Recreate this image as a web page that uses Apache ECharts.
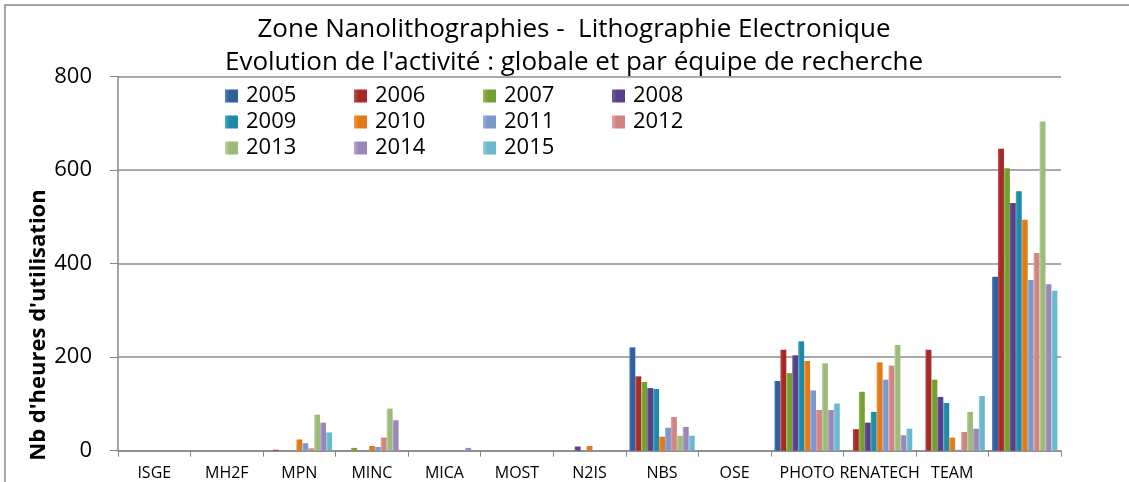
<!DOCTYPE html>
<html>
<head>
<meta charset="utf-8">
<script src="https://cdn.jsdelivr.net/npm/echarts@6/dist/echarts.min.js"></script>
<style>
html,body{margin:0;padding:0;background:#fff;}
#c{width:1129px;height:482px;}
</style>
</head>
<body>
<div id="c"></div>
<script>
const categories = ['ISGE','MH2F','MPN','MINC','MICA','MOST','N2IS','NBS','OSE','PHOTO','RENATECH','TEAM',''];
const years = ['2005','2006','2007','2008','2009','2010','2011','2012','2013','2014','2015'];
const v2005 = [0,0,0,0,0,0,0,221,0,149,0,0,372];
const v2006 = [0,0,2,0,0,0,0,159,0,216,46,216,646];
const v2007 = [0,0,0,6,0,0,0,147,0,166,126,152,604];
const v2008 = [0,0,0,0,0,0,9,134,0,204,60,115,530];
const v2009 = [0,0,0,0,0,0,0,132,0,234,83,102,555];
const v2010 = [0,0,24,10,0,0,10,30,0,192,189,28,494];
const v2011 = [0,0,16,8,0,0,0,49,0,129,152,2,365];
const v2012 = [0,0,5,28,0,0,0,72,0,87,182,40,423];
const v2013 = [0,0,77,90,0,0,0,32,0,187,226,83,704];
const v2014 = [0,0,60,65,6,0,0,51,0,87,33,47,356];
const v2015 = [0,0,39,0,0,0,0,32,0,101,47,117,342];
const values = [v2005,v2006,v2007,v2008,v2009,v2010,v2011,v2012,v2013,v2014,v2015];
const yTicks = [0,200,400,600,800];

const colors = ['#2f5f9e','#a52a2a','#74a032','#5b3e88','#1f8aa6','#e07a1a','#7a98cb','#d08484','#9dba78','#9a87b8','#6ab8cc'];
const light = ['#4f80c0','#c84a48','#93c050','#7a5aa8','#40acc8','#f59840','#9ab4e0','#e8a4a4','#bcd89a','#b8a8d4','#90d4e4'];

const series = years.map((y,i)=>({
  name: y,
  type: 'bar',
  data: values[i],
  barGap: '0%',
  barCategoryGap: '10%',
  itemStyle: {
    color: new echarts.graphic.LinearGradient(0,0,1,0,[
      {offset:0,color:light[i]},{offset:0.35,color:colors[i]},{offset:1,color:colors[i]}
    ])
  }
}));

const chart = echarts.init(document.getElementById('c'));
chart.setOption({
  animation:false,
  color: colors,
  textStyle:{fontFamily:'Open Sans'},
  title:{
    text:"Zone Nanolithographies -  Lithographie Electronique\nEvolution de l'activité : globale et par équipe de recherche",
    left:569, textAlign:'center', top:8,
    textStyle:{fontFamily:'Open Sans',fontSize:26,fontWeight:'normal',color:'#000',lineHeight:33}
  },
  legend:{
    left:220, top:80, width:530,
    itemWidth:13, itemHeight:13, itemGap:4,
    icon:'rect',
    data: years,
    textStyle:{fontFamily:'Open Sans',fontSize:22,color:'#000',width:104,lineHeight:20,padding:[0,0,0,3]}
  },
  grid:{left:118,right:68,top:76.7,bottom:31.3,containLabel:false},
  xAxis:{
    type:'category',
    data:categories,
    axisLine:{lineStyle:{color:'#888',width:1.5}},
    axisTick:{show:true,length:6,lineStyle:{color:'#888'},alignWithLabel:false},
    axisLabel:{fontFamily:'Open Sans',fontSize:16,color:'#000',margin:15,interval:0}
  },
  yAxis:{
    type:'value',min:0,max:800,interval:200,
    axisLine:{show:true,lineStyle:{color:'#888',width:1.5}},
    axisTick:{show:true,inside:false,length:8,lineStyle:{color:'#888'}},
    axisLabel:{fontFamily:'Open Sans',fontSize:22,color:'#000',margin:26,
      formatter:(v)=> yTicks.includes(v)? String(v) : ''},
    splitLine:{show:true,lineStyle:{color:'#8c8c8c',width:1.5}}
  },
  graphic:[
    {type:'rect',shape:{x:5,y:5,width:1200,height:1000},style:{fill:'none',stroke:'#8a8a8a',lineWidth:1.5},silent:true},
    {type:'text',x:39,y:325,rotation:Math.PI/2,
      style:{text:"Nb d'heures d'utilisation",fontFamily:'Open Sans',fontSize:22,fontWeight:'bold',fill:'#000',align:'center',verticalAlign:'middle'}}
  ],
  series: series
});
</script>
</body>
</html>
